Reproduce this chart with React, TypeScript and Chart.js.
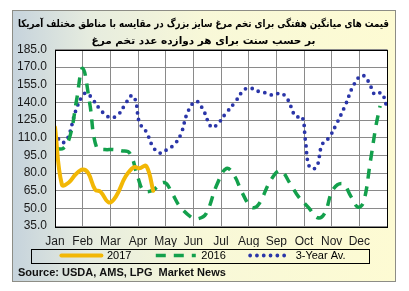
import React, { useEffect, useRef } from 'react';
import { Chart, registerables } from 'chart.js';

Chart.register(...registerables);

// ---- data ----
const monthLabels = ['Jan', 'Feb', 'Mar', 'Apr', 'May', 'Jun', 'Jul', 'Aug', 'Sep', 'Oct', 'Nov', 'Dec'];
const titleLines = [
  'قیمت های میانگین هفتگی برای تخم مرغ سایز بزرگ در مقایسه با مناطق مختلف آمریکا',
  'بر حسب سنت برای هر دوازده عدد تخم مرغ',
];
const sourceText = 'Source: USDA, AMS, LPG  Market News';
const seriesLabels = ['2017', '2016', '3-Year Av.'];

// x positions in months (0 = Jan), values in cents per dozen
const x2017 = [0, 0.25, 0.5, 0.75, 1.0, 1.2, 1.45, 1.65, 1.95, 2.2, 2.55, 2.85, 3.05, 3.3, 3.55];
const y2017 = [119, 70, 72, 79, 83, 80, 66, 64, 55, 60, 77, 85, 84, 86, 65];

const x2016 = [0, 0.3, 0.55, 0.78, 1.0, 1.25, 1.5, 1.8, 2.1, 2.4, 2.7, 3.0, 3.2, 3.5, 3.95, 4.25, 4.5, 4.95, 5.15, 5.45, 5.85, 6.2, 6.5, 6.75, 7.1, 7.35, 7.8, 8.15, 8.5, 8.8, 9.15, 9.5, 9.75, 10.05, 10.4, 10.7, 10.95, 11.15, 11.4, 11.6, 11.75];
const y2016 = [101, 101, 112, 142, 169, 140, 102, 100, 100, 99, 97, 76, 65, 65, 72, 62, 52, 42, 41, 45, 70, 84, 77, 64, 51, 53, 74, 82, 71, 60, 51, 42, 46, 66, 71, 60, 51, 55, 90, 120, 137];

const xAvg = [0, 0.25, 0.45, 0.75, 1.0, 1.15, 1.35, 1.6, 1.85, 2.05, 2.3, 2.55, 2.78, 2.92, 3.05, 3.3, 3.55, 3.8, 4.05, 4.3, 4.55, 4.8, 5.1, 5.35, 5.65, 5.85, 6.15, 6.5, 6.85, 7.1, 7.4, 7.65, 7.9, 8.15, 8.4, 8.7, 8.93, 9.05, 9.2, 9.45, 9.65, 9.9, 10.2, 10.5, 10.8, 11.1, 11.35, 11.55, 11.8, 12];
const yAvg = [114, 106, 109, 133, 146, 148, 143, 135, 129, 127, 130, 139, 146, 141, 123, 115, 102, 97, 100, 104, 113, 132, 141, 134, 119, 121, 130, 140, 151, 152, 149, 148, 146, 148, 143, 128, 128, 108, 85, 85, 104, 110, 123, 138, 155, 163, 157, 147, 148, 136];

const yMin = 35;
const yMax = 185;
const yStep = 15;

const pts = (xs: number[], ys: number[]) => xs.map((x, i) => ({ x, y: ys[i] }));

const FONT = 'Arial, "Liberation Sans", sans-serif';
const LEGEND_GAP = '       ';

const legendBoxPlugin = {
  id: 'legendBox',
  afterDraw(chart: any) {
    const lg = chart.legend;
    if (!lg || !lg.legendHitBoxes || !lg.legendHitBoxes.length) return;
    const hb = lg.legendHitBoxes;
    const left = hb[0].left - 30;
    const last = hb[hb.length - 1];
    const right = last.left + last.width + 24;
    const top = hb[0].top - 1.5;
    const bottom = hb[0].top + hb[0].height + 1.5;
    const ctx = chart.ctx;
    ctx.save();
    ctx.strokeStyle = '#000';
    ctx.lineWidth = 1;
    ctx.strokeRect(Math.round(left) + 0.5, Math.round(top) + 0.5, Math.round(right - left), Math.round(bottom - top));
    ctx.restore();
  },
};

const plotBgPlugin = {
  id: 'plotBg',
  beforeDraw(chart: any) {
    const { ctx, chartArea } = chart;
    ctx.save();
    ctx.fillStyle = '#ffffff';
    ctx.fillRect(chartArea.left, chartArea.top, chartArea.right - chartArea.left, chartArea.bottom - chartArea.top);
    ctx.restore();
  },
  afterDatasetsDraw(chart: any) {
    const { ctx, chartArea } = chart;
    ctx.save();
    ctx.strokeStyle = '#000';
    ctx.lineWidth = 1;
    ctx.strokeRect(Math.round(chartArea.left) + 0.5, Math.round(chartArea.top) + 0.5, Math.round(chartArea.right - chartArea.left), Math.round(chartArea.bottom - chartArea.top));
    ctx.restore();
  },
};

export default function App() {
  const ref = useRef<HTMLCanvasElement>(null);
  useEffect(() => {
    if (!ref.current) return;
    const chart = new Chart(ref.current, {
      type: 'line',
      data: {
        datasets: [
          {
            label: seriesLabels[0],
            data: pts(x2017, y2017),
            borderColor: '#f2b705',
            backgroundColor: '#f2b705',
            borderWidth: 4,
            pointRadius: 0,
            tension: 0.4,
            borderCapStyle: 'round',
            borderJoinStyle: 'round',
          },
          {
            label: seriesLabels[1],
            data: pts(x2016, y2016),
            borderColor: '#13a04c',
            backgroundColor: '#13a04c',
            borderWidth: 3.5,
            borderDash: [10, 8],
            pointRadius: 0,
            tension: 0.4,
          },
          {
            label: seriesLabels[2],
            data: pts(xAvg, yAvg),
            borderColor: '#2a35a8',
            backgroundColor: '#2a35a8',
            borderWidth: 3.8,
            borderDash: [0, 6.8],
            borderCapStyle: 'round',
            pointRadius: 0,
            tension: 0.4,
          },
        ],
      },
      options: {
        animation: false,
        responsive: false,
        maintainAspectRatio: false,
        layout: { padding: { left: 5, right: 6, top: 0, bottom: 0 } },
        scales: {
          x: {
            type: 'linear',
            min: 0,
            max: 12,
            border: { display: false },
            grid: { color: '#8a8a8a', lineWidth: 1, drawTicks: false },
            afterFit: (s: any) => {
              s.height = 21;
            },
            ticks: {
              stepSize: 1,
              autoSkip: false,
              maxRotation: 0,
              padding: 8,
              color: '#1a1a1a',
              font: { family: FONT, size: 12 },
              callback: (v: any) => (Number.isInteger(v) && v < 12 ? monthLabels[v] : ''),
            },
          },
          y: {
            min: yMin,
            max: yMax,
            border: { display: false },
            grid: { color: '#8a8a8a', lineWidth: 1, drawTicks: false },
            afterFit: (s: any) => {
              s.width = 37;
            },
            ticks: {
              stepSize: yStep,
              autoSkip: false,
              padding: 8,
              color: '#1a1a1a',
              font: { family: FONT, size: 12 },
              callback: (v: any) => Number(v).toFixed(1),
            },
          },
        },
        plugins: {
          title: {
            display: true,
            text: titleLines,
            color: '#000',
            font: { family: '"DejaVu Sans", sans-serif', size: 10.5, weight: 'bold', lineHeight: '17px' },
            padding: { top: 4.5, bottom: 0 },
          },
          subtitle: {
            display: true,
            position: 'bottom',
            align: 'start',
            text: sourceText,
            color: '#111',
            font: { family: FONT, size: 11, weight: 'bold' },
            padding: { top: 2.4, bottom: 1.4 },
          },
          legend: {
            display: true,
            position: 'bottom',
            maxHeight: 17,
            labels: {
              usePointStyle: true,
              pointStyleWidth: 40,
              boxHeight: 8,
              padding: 3,
              color: '#000',
              font: { family: FONT, size: 11 },
              generateLabels: (c: any) =>
                c.data.datasets.map((ds: any, i: number) => ({
                  text: i < c.data.datasets.length - 1 ? ds.label + LEGEND_GAP : ds.label,
                  fillStyle: ds.borderColor,
                  strokeStyle: ds.borderColor,
                  lineWidth: ds.borderWidth,
                  lineDash: ds.borderDash || [],
                  lineCap: ds.borderCapStyle || 'butt',
                  pointStyle: 'line',
                  hidden: false,
                  datasetIndex: i,
                  fontColor: '#000',
                })),
            },
          },
          tooltip: { enabled: false },
        },
      },
      plugins: [plotBgPlugin, legendBoxPlugin],
    });
    return () => chart.destroy();
  }, []);

  return (
    <div
      style={{
        position: 'absolute',
        left: 12,
        top: 10,
        width: 384,
        height: 272,
        boxSizing: 'border-box',
        border: '1px solid #8d8d86',
        background: 'linear-gradient(to right, #c6d3dc 0%, #e6ecdf 20%, #f8f8d8 50%, #fdfbd3 100%)',
      }}
    >
      <canvas ref={ref} width={382} height={270} style={{ display: 'block', width: 382, height: 270 }} />
    </div>
  );
}
